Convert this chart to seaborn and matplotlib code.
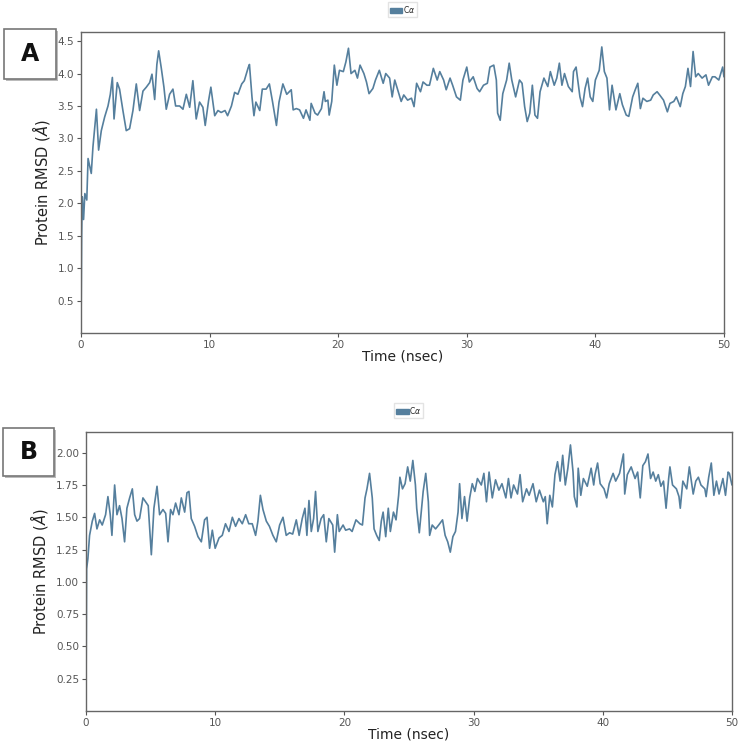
import pandas as pd
import seaborn as sns
import matplotlib
matplotlib.use('Agg')
import matplotlib.pyplot as plt
from matplotlib.patches import Patch, Rectangle

# Painel A: RMSD de C-alfa
tempo_a = [0.0, 0.05, 0.1, 0.2, 0.3, 0.45, 0.55, 0.8, 0.93, 1.2, 1.37, 1.58, 1.84, 2.1, 2.28,
           2.44, 2.57, 2.82, 3.0, 3.26, 3.52, 3.78, 4.04, 4.3, 4.56, 4.82, 5.08, 5.34, 5.52,
           5.73, 5.9, 6.04, 6.24, 6.45, 6.63, 6.89, 7.15, 7.36, 7.67, 7.93, 8.19, 8.45, 8.7,
           8.96, 9.22, 9.48, 9.66, 9.92, 10.1, 10.4, 10.65, 10.9, 11.2, 11.4, 11.7, 11.95,
           12.2, 12.5, 12.7, 13.0, 13.1, 13.3, 13.45, 13.6, 13.9, 14.1, 14.4, 14.65, 14.9,
           15.2, 15.4, 15.7, 16.0, 16.35, 16.5, 16.75, 17.0, 17.3, 17.5, 17.8, 17.9, 18.2,
           18.4, 18.7, 18.9, 19.0, 19.2, 19.3, 19.5, 19.7, 19.9, 20.1, 20.4, 20.6, 20.8, 21.0,
           21.3, 21.5, 21.7, 22.0, 22.2, 22.4, 22.7, 22.9, 23.2, 23.5, 23.7, 24.0, 24.2, 24.4,
           24.6, 24.9, 25.1, 25.4, 25.7, 25.9, 26.1, 26.4, 26.6, 26.9, 27.1, 27.4, 27.7, 27.9,
           28.2, 28.4, 28.7, 28.9, 29.2, 29.5, 29.7, 30.0, 30.2, 30.5, 30.8, 31.0, 31.3, 31.6,
           31.8, 32.1, 32.3, 32.4, 32.6, 32.8, 33.1, 33.3, 33.5, 33.8, 34.1, 34.3, 34.5, 34.7,
           34.9, 35.1, 35.3, 35.5, 35.7, 36.0, 36.3, 36.5, 36.8, 37.0, 37.2, 37.4, 37.6, 37.9,
           38.2, 38.3, 38.5, 38.8, 39.0, 39.2, 39.4, 39.6, 39.8, 40.0, 40.3, 40.5, 40.7, 40.9,
           41.1, 41.3, 41.6, 41.9, 42.1, 42.4, 42.6, 42.9, 43.1, 43.3, 43.5, 43.7, 44.0, 44.3,
           44.5, 44.8, 45.0, 45.3, 45.6, 45.8, 46.1, 46.3, 46.6, 46.8, 47.0, 47.2, 47.4, 47.6,
           47.8, 48.0, 48.3, 48.6, 48.8, 49.1, 49.3, 49.6, 49.9, 50.0]
rmsd_a = [0.0, 1.5, 2.1, 1.75, 2.15, 2.05, 2.69, 2.46, 2.87, 3.45, 2.82, 3.12, 3.33, 3.5, 3.68,
          3.94, 3.3, 3.86, 3.76, 3.43, 3.12, 3.15, 3.43, 3.84, 3.43, 3.73, 3.79, 3.86, 3.99,
          3.6, 4.14, 4.35, 4.09, 3.79, 3.45, 3.68, 3.76, 3.5, 3.5, 3.45, 3.68, 3.48, 3.89,
          3.3, 3.56, 3.48, 3.2, 3.58, 3.79, 3.35, 3.43, 3.4, 3.43, 3.35, 3.5, 3.71,
          3.68, 3.84, 3.89, 4.09, 4.14, 3.63, 3.35, 3.56, 3.43, 3.76, 3.76, 3.84, 3.56,
          3.2, 3.56, 3.84, 3.68, 3.75, 3.44, 3.46, 3.44, 3.31, 3.44, 3.28, 3.54, 3.39,
          3.36, 3.46, 3.72, 3.57, 3.59, 3.36, 3.57, 4.13, 3.82, 4.05, 4.03, 4.18, 4.39, 4.0,
          4.05, 3.93, 4.13, 4.0, 3.87, 3.69, 3.77, 3.9, 4.05, 3.85, 4.0, 3.93, 3.64, 3.9,
          3.77, 3.57, 3.67, 3.59, 3.62, 3.49, 3.85, 3.72, 3.87, 3.82, 3.82, 4.08, 3.9, 4.03,
          3.9, 3.75, 3.93, 3.82, 3.64, 3.59, 3.9, 4.1, 3.87, 3.95, 3.77, 3.72, 3.82, 3.85,
          4.1, 4.13, 3.9, 3.39, 3.28, 3.69, 3.9, 4.16, 3.9, 3.64, 3.9, 3.85, 3.49, 3.26,
          3.39, 3.82, 3.36, 3.31, 3.72, 3.93, 3.8, 4.03, 3.82, 3.93, 4.16, 3.82, 4.0, 3.8,
          3.72, 4.03, 4.1, 3.64, 3.49, 3.77, 3.93, 3.64, 3.57, 3.9, 4.05, 4.41, 4.03, 3.93,
          3.44, 3.82, 3.44, 3.69, 3.52, 3.36, 3.34, 3.64, 3.75, 3.85, 3.46, 3.62, 3.57, 3.59,
          3.67, 3.72, 3.67, 3.59, 3.41, 3.54, 3.57, 3.64, 3.49, 3.69, 3.8, 4.08, 3.8, 4.34,
          3.95, 4.0, 3.93, 3.98, 3.82, 3.95, 3.95, 3.9, 4.1, 3.95]

# Painel B
tempo_b = [0.0, 0.05, 0.15, 0.28, 0.49, 0.67, 0.85, 1.06, 1.26, 1.52, 1.7, 1.88, 2.01, 2.22, 2.4,
           2.6, 2.79, 2.99, 3.17, 3.38, 3.59, 3.77, 3.95, 4.15, 4.41, 4.62, 4.82, 5.06, 5.26,
           5.5, 5.7, 5.96, 6.17, 6.35, 6.55, 6.73, 6.94, 7.2, 7.38, 7.64, 7.82, 7.97, 8.15,
           8.41, 8.67, 8.93, 9.18, 9.37, 9.57, 9.78, 10.0, 10.3, 10.55, 10.8, 11.07, 11.33,
           11.58, 11.84, 12.1, 12.36, 12.6, 12.87, 13.13, 13.31, 13.5, 13.7, 13.96, 14.2,
           14.47, 14.73, 14.99, 15.25, 15.5, 15.76, 16.0, 16.28, 16.5, 16.74, 16.95, 17.1,
           17.26, 17.44, 17.62, 17.77, 17.95, 18.2, 18.4, 18.6, 18.8, 19.1, 19.25, 19.46,
           19.6, 19.9, 20.1, 20.4, 20.6, 20.9, 21.2, 21.4, 21.6, 21.75, 21.95, 22.16, 22.3,
           22.5, 22.7, 22.86, 23.0, 23.2, 23.4, 23.56, 23.8, 24.0, 24.2, 24.3, 24.5, 24.7,
           24.9, 25.1, 25.3, 25.5, 25.6, 25.8, 26.0, 26.1, 26.3, 26.5, 26.6, 26.8, 27.06,
           27.3, 27.6, 27.8, 28.0, 28.2, 28.4, 28.6, 28.8, 28.92, 29.1, 29.3, 29.5, 29.7,
           29.9, 30.1, 30.3, 30.6, 30.8, 31.0, 31.2, 31.45, 31.7, 31.96, 32.2, 32.5, 32.7,
           32.9, 33.1, 33.4, 33.6, 33.8, 34.1, 34.3, 34.6, 34.85, 35.1, 35.4, 35.55, 35.7,
           35.9, 36.1, 36.3, 36.5, 36.7, 36.9, 37.1, 37.3, 37.5, 37.7, 37.8, 38.0, 38.1,
           38.3, 38.5, 38.8, 39.1, 39.3, 39.4, 39.6, 39.8, 40.1, 40.3, 40.5, 40.8, 41.0,
           41.3, 41.6, 41.7, 41.9, 42.2, 42.5, 42.7, 42.9, 43.1, 43.3, 43.5, 43.7, 43.9,
           44.1, 44.3, 44.5, 44.7, 44.9, 45.1, 45.2, 45.4, 45.7, 45.9, 46.0, 46.2, 46.5,
           46.7, 47.0, 47.2, 47.4, 47.6, 47.9, 48.0, 48.2, 48.4, 48.6, 48.8, 49.0, 49.3,
           49.5, 49.7, 49.8, 50.0]
rmsd_b = [0.0, 1.1, 1.18, 1.36, 1.47, 1.53, 1.41, 1.48, 1.44, 1.52, 1.66, 1.52, 1.36, 1.75, 1.52,
          1.59, 1.49, 1.31, 1.57, 1.65, 1.72, 1.52, 1.47, 1.49, 1.65, 1.62, 1.59, 1.21, 1.57,
          1.74, 1.52, 1.56, 1.53, 1.31, 1.56, 1.52, 1.61, 1.52, 1.65, 1.54, 1.69, 1.7, 1.49,
          1.43, 1.35, 1.31, 1.48, 1.5, 1.26, 1.4, 1.26, 1.34, 1.36, 1.45, 1.39, 1.5,
          1.43, 1.49, 1.45, 1.52, 1.45, 1.45, 1.36, 1.47, 1.67, 1.56, 1.47, 1.43,
          1.36, 1.31, 1.44, 1.5, 1.36, 1.38, 1.37, 1.48, 1.36, 1.49, 1.57, 1.36,
          1.63, 1.39, 1.49, 1.7, 1.39, 1.49, 1.52, 1.31, 1.49, 1.44, 1.23, 1.52,
          1.39, 1.44, 1.4, 1.41, 1.39, 1.48, 1.45, 1.44, 1.65, 1.72, 1.84, 1.65, 1.41,
          1.36, 1.32, 1.47, 1.54, 1.35, 1.57, 1.39, 1.54, 1.48, 1.67, 1.81, 1.72, 1.76,
          1.89, 1.78, 1.94, 1.75, 1.57, 1.38, 1.59, 1.7, 1.84, 1.62, 1.36, 1.44, 1.41,
          1.44, 1.48, 1.36, 1.31, 1.23, 1.35, 1.39, 1.54, 1.76, 1.49, 1.66, 1.47, 1.65,
          1.76, 1.7, 1.8, 1.75, 1.84, 1.62, 1.85, 1.65, 1.79, 1.71, 1.76, 1.65, 1.8,
          1.65, 1.75, 1.68, 1.83, 1.62, 1.72, 1.67, 1.76, 1.62, 1.71, 1.62, 1.66, 1.45,
          1.67, 1.58, 1.83, 1.93, 1.78, 1.98, 1.75, 1.88, 2.06, 1.85, 1.66, 1.58, 1.88,
          1.67, 1.8, 1.74, 1.88, 1.75, 1.83, 1.92, 1.76, 1.72, 1.65, 1.76, 1.84, 1.78,
          1.84, 1.99, 1.68, 1.83, 1.89, 1.8, 1.85, 1.65, 1.9, 1.93, 1.99, 1.8, 1.85,
          1.78, 1.83, 1.74, 1.78, 1.57, 1.8, 1.89, 1.75, 1.72, 1.66, 1.57, 1.78, 1.72,
          1.89, 1.68, 1.78, 1.81, 1.75, 1.72, 1.66, 1.81, 1.92, 1.67, 1.78, 1.68, 1.8,
          1.67, 1.85, 1.84, 1.75]

yticks_a = [0.5, 1.0, 1.5, 2.0, 2.5, 3.0, 3.5, 4.0, 4.5]
yticks_b = [0.25, 0.50, 0.75, 1.00, 1.25, 1.50, 1.75, 2.00]
xticks = [0, 10, 20, 30, 40, 50]

COR = '#557f9d'

sns.set_style('white')
plt.rcParams['font.family'] = ['DejaVu Sans']

fig = plt.figure(figsize=(7.41, 7.45), dpi=100)
ax_a = fig.add_axes([0.1093, 0.553, 0.8677, 0.404])
ax_b = fig.add_axes([0.1160, 0.0456, 0.8718, 0.3745])


def desenhar_painel(ax, tempo, rmsd, yticks, ylim, fmt):
    df = pd.DataFrame({'tempo': tempo, 'rmsd': rmsd})
    sns.lineplot(data=df, x='tempo', y='rmsd', ax=ax, color=COR, linewidth=1.2,
                 estimator=None, sort=False, legend=False)
    ax.set_xlim(0, 50)
    ax.set_ylim(*ylim)
    ax.set_xticks(xticks)
    ax.set_yticks(yticks)
    ax.set_yticklabels([fmt.format(v) for v in yticks])
    ax.tick_params(axis='both', direction='out', length=3, width=0.8, pad=2,
                   colors='#555555', labelsize=7.5, bottom=True, left=True)
    for s in ax.spines.values():
        s.set_color('#666666')
        s.set_linewidth(1.0)
    ax.set_xlabel('Time (nsec)', fontsize=10, color='#222222', labelpad=0)
    ax.set_ylabel('Protein RMSD ($\\AA$)', fontsize=10.5, color='#222222')
    ax.legend(handles=[Patch(facecolor=COR, edgecolor=COR, label='C$\\alpha$')],
              loc='lower center', bbox_to_anchor=(0.5, 1.05), fontsize=5.5,
              frameon=True, handlelength=1.6, handleheight=0.6, handletextpad=0.1,
              borderpad=0.25, borderaxespad=0, fancybox=False, edgecolor='#dddddd')


desenhar_painel(ax_a, tempo_a, rmsd_a, yticks_a, (0, 4.64), '{:.1f}')
desenhar_painel(ax_b, tempo_b, rmsd_b, yticks_b, (0, 2.16), '{:.2f}')


def caixa_letra(letra, x0, y0, w, h):
    W, H = 741, 745
    sombra = Rectangle((x0 / W + 0.003, 1 - (y0 + h) / H - 0.003), w / W, h / H,
                       transform=fig.transFigure, facecolor='#bbbbbb', edgecolor='none')
    caixa = Rectangle((x0 / W, 1 - (y0 + h) / H), w / W, h / H,
                      transform=fig.transFigure, facecolor='white', edgecolor='#777777',
                      linewidth=1.2)
    fig.add_artist(sombra)
    fig.add_artist(caixa)
    fig.text((x0 + w / 2) / W, 1 - (y0 + h / 2) / H, letra, ha='center', va='center',
             fontsize=17, fontweight='bold', color='#111111')


caixa_letra('A', 4, 29, 52, 50)
caixa_letra('B', 3, 428, 51, 48)

fig.savefig('out.png', dpi=100)
